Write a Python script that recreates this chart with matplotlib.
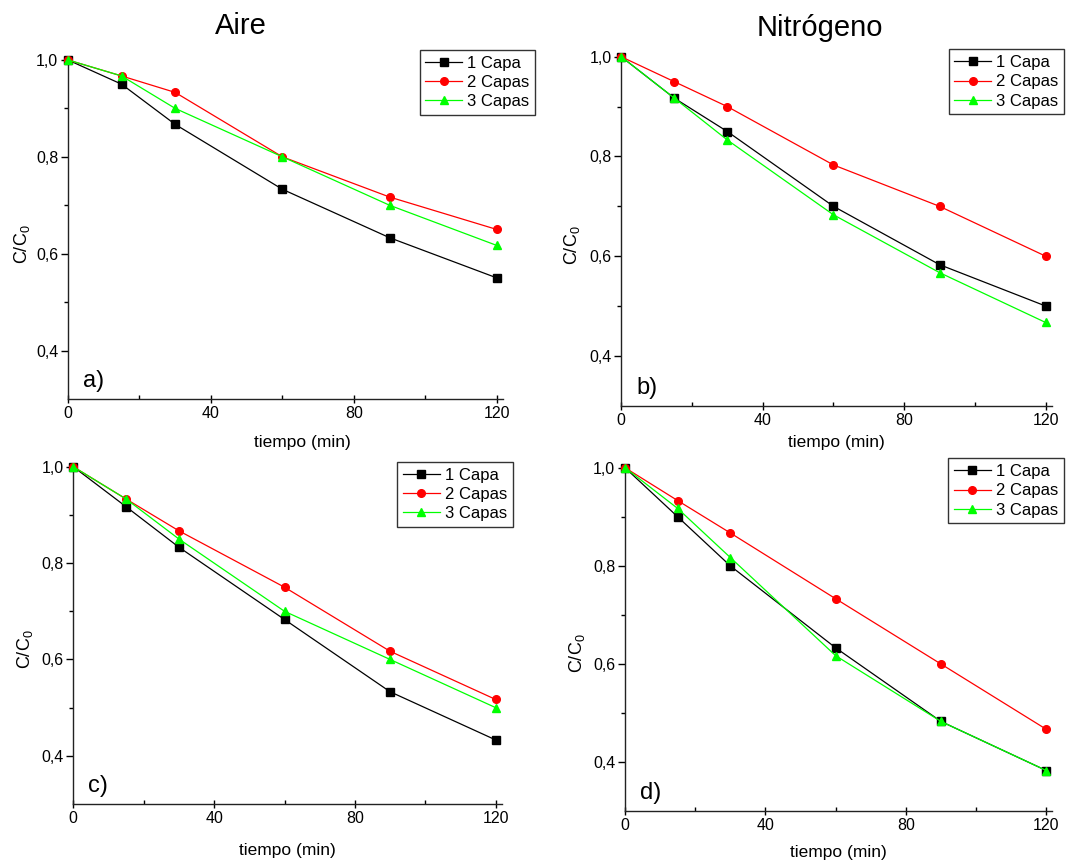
import matplotlib
matplotlib.use("Agg")
import matplotlib.pyplot as plt
from matplotlib.ticker import MultipleLocator, FuncFormatter

plt.rcParams['font.family'] = ['Liberation Sans', 'DejaVu Sans']
plt.rcParams['mathtext.default'] = 'regular'

# === DATA ===
tiempo = [0, 15, 30, 60, 90, 120]
series_names = ["1 Capa", "2 Capas", "3 Capas"]

# a) Aire, panel superior
a_1capa = [1.0, 0.950, 0.867, 0.733, 0.633, 0.550]
a_2capas = [1.0, 0.967, 0.933, 0.800, 0.717, 0.650]
a_3capas = [1.0, 0.967, 0.900, 0.800, 0.700, 0.617]

# b) Nitrogeno, panel superior
b_1capa = [1.0, 0.917, 0.850, 0.700, 0.583, 0.500]
b_2capas = [1.0, 0.950, 0.900, 0.783, 0.700, 0.600]
b_3capas = [1.0, 0.917, 0.833, 0.683, 0.567, 0.467]

# c) Aire, panel inferior
c_1capa = [1.0, 0.917, 0.833, 0.683, 0.533, 0.433]
c_2capas = [1.0, 0.933, 0.867, 0.750, 0.617, 0.517]
c_3capas = [1.0, 0.933, 0.850, 0.700, 0.600, 0.500]

# d) Nitrogeno, panel inferior
d_1capa = [1.0, 0.900, 0.800, 0.633, 0.483, 0.383]
d_2capas = [1.0, 0.933, 0.867, 0.733, 0.600, 0.467]
d_3capas = [1.0, 0.917, 0.817, 0.617, 0.483, 0.383]

panel_letters = ["a)", "b)", "c)", "d)"]
titles = ["Aire", "Nitrógeno"]

# === STYLE ===
colors = ["black", "#ff0000", "#00ff00"]
markers = ["s", "o", "^"]

# axes rectangles [left, bottom, width, height] in figure fractions
rects = [
    [0.0624, 0.5382, 0.3994, 0.3924],
    [0.5705, 0.5304, 0.3952, 0.4039],
    [0.0673, 0.0694, 0.3934, 0.3904],
    [0.5739, 0.0610, 0.3924, 0.3977],
]
legend_anchor = [(1.074, 1.029), (1.029, 1.021), (1.026, 1.015), (1.027, 1.027)]
xlabel_pos = [(0.538, -0.106), (0.5, -0.085), (0.5, -0.116), (0.5, -0.099)]
ylabel_pos = [(-0.082, 0.457), (-0.091, 0.46), (-0.089, 0.46), (-0.089, 0.46)]

data = [
    [a_1capa, a_2capas, a_3capas],
    [b_1capa, b_2capas, b_3capas],
    [c_1capa, c_2capas, c_3capas],
    [d_1capa, d_2capas, d_3capas],
]

comma = FuncFormatter(lambda v, p: f"{v:.1f}".replace(".", ","))

fig = plt.figure(figsize=(10.89, 8.64), dpi=100)

for i, series in enumerate(data):
    ax = fig.add_axes(rects[i])
    for vals, name, col, mk in zip(series, series_names, colors, markers):
        ax.plot(tiempo, vals, color=col, marker=mk, markersize=5.5,
                linewidth=0.9, label=name, clip_on=False, zorder=3)

    ax.set_xlim(0, 121.7)
    ax.set_ylim(0.3, 1.0)
    ax.xaxis.set_major_locator(MultipleLocator(40))
    ax.xaxis.set_minor_locator(MultipleLocator(20))
    ax.yaxis.set_major_formatter(comma)
    ax.set_yticks([0.4, 0.6, 0.8, 1.0])
    ax.set_yticks([0.5, 0.7, 0.9], minor=True)

    for s in ["top", "right"]:
        ax.spines[s].set_visible(False)
    for s in ["left", "bottom"]:
        ax.spines[s].set_linewidth(1.0)
        ax.spines[s].set_color("#222222")

    ax.tick_params(axis="x", which="major", direction="inout", length=6,
                   width=1.0, labelsize=11.5, pad=2)
    ax.tick_params(axis="x", which="minor", direction="in", length=3, width=1.0)
    ax.tick_params(axis="y", which="major", direction="out", length=5,
                   width=1.0, labelsize=11.5, pad=2)
    ax.tick_params(axis="y", which="minor", direction="out", length=3, width=1.0)

    ax.set_xlabel("tiempo (min)", fontsize=12.5)
    ax.set_ylabel("C/C$_0$", fontsize=13)
    ax.xaxis.set_label_coords(*xlabel_pos[i])
    ax.yaxis.set_label_coords(*ylabel_pos[i])

    ax.text(0.035, 0.035, panel_letters[i], transform=ax.transAxes,
            fontsize=17, va="baseline", ha="left")

    leg = ax.legend(loc="upper right", bbox_to_anchor=legend_anchor[i],
                    fontsize=12, frameon=True, fancybox=False,
                    handlelength=2.2, handletextpad=0.3, labelspacing=0.25,
                    borderpad=0.35, borderaxespad=0.0)
    leg.get_frame().set_edgecolor("black")
    leg.get_frame().set_linewidth(1.0)

fig.text(241 / 1089, 1 - 26 / 864, titles[0], fontsize=21, ha="center", va="center")
fig.text(820 / 1089, 1 - 28 / 864, titles[1], fontsize=21, ha="center", va="center")

fig.savefig("out.png", dpi=100)
